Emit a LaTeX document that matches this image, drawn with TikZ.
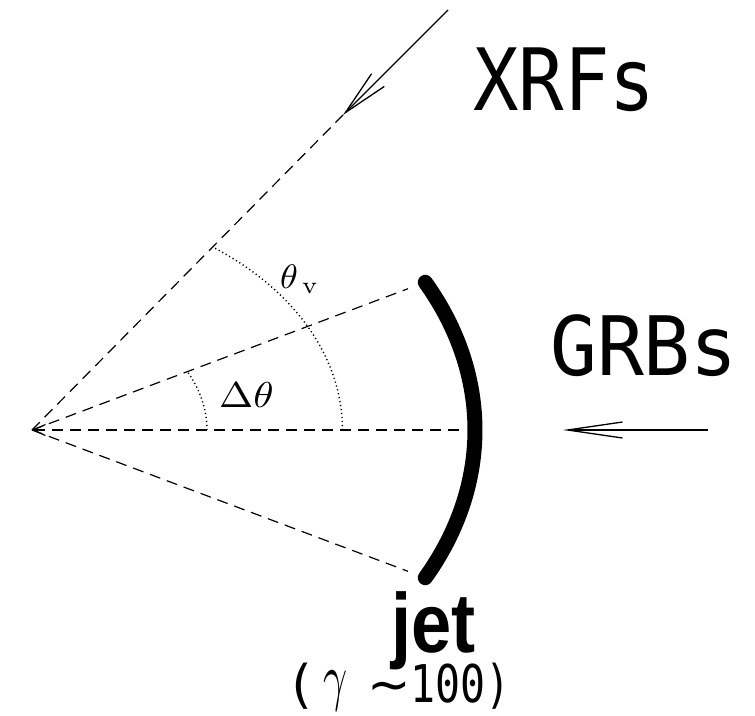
\documentclass[tikz,border=0pt]{standalone}
\usepackage{fontspec}
\usepackage{graphicx}
\setmonofont{DejaVu Sans Mono}
\newfontfamily\dvsans{DejaVu Sans}
\newfontfamily\lsans{Liberation Sans}
\usetikzlibrary{arrows.meta}
\newcommand{\gammaglyph}{\raisebox{4pt}{\scalebox{4.2}[6.4]{\fontsize{10}{12}\selectfont$\gamma$}}}
\begin{document}
\begin{tikzpicture}[x=1pt,y=1pt,
  ray/.style={line width=1.2pt, dash pattern=on 11pt off 7pt},
  dotarc/.style={line width=1.4pt, dash pattern=on 1.2pt off 2.8pt},
  flux/.style={line width=1.3pt},
  lbl/.style={inner sep=0pt, anchor=base west},
  jetline/.style={line width=15pt, line cap=round}]
\useasboundingbox (0,0) rectangle (755,-715);
% key points
\coordinate (O) at (32,-430);
\coordinate (T) at (343,-115);
\coordinate (S) at (448,-10);
\coordinate (E1) at (408,-288.7);
\coordinate (H) at (466,-430);
\coordinate (E2) at (408,-571.3);
\coordinate (G1) at (708,-430);
\coordinate (G2) at (563,-430);
% dashed rays
\draw[ray] (O) -- (T);
\draw[ray] (O) -- (E1);
\draw[ray, {Straight Barb[length=12pt,width=11pt]}-] (O) -- (H);
\draw[ray] (O) -- (E2);
% incoming fluxes
\draw[flux, -{Straight Barb[length=46pt,width=18pt]}] (S) -- (T);
\draw[flux, -{Straight Barb[length=55pt,width=16pt]}] (G1) -- (G2);
% dotted angle arcs
\draw[dotarc] (O) ++(175,0) arc[start angle=0, end angle=27.4, x radius=175, y radius=127];
\draw[dotarc] (O) ++(310.5,0) arc[start angle=0, end angle=54.4, x radius=310.5, y radius=225];
% jet
\draw[jetline] (O) ++(-27.4:443 and 321) arc[start angle=-27.4, end angle=27.4, x radius=443, y radius=321];
% labels
\node[lbl] (thv) at (280,-288) {\scalebox{3.6}[3.4]{\fontsize{10}{12}\selectfont$\theta_{\,\mathrm{v}}$}};
\node[lbl] (dth) at (219,-407) {\scalebox{4.1}[3.6]{\fontsize{10}{12}\selectfont$\Delta\theta$}};
\node[lbl] (xrf) at (473,-110) {\fontsize{86}{86}\selectfont\ttfamily\scalebox{0.88}[1]{XRFs}};
\node[lbl] (grb) at (550,-375) {\fontsize{82}{82}\selectfont\ttfamily\scalebox{0.95}[1]{GRBs}};
\node[lbl] (jet) at (391,-652) {\fontsize{84}{84}\selectfont\lsans\bfseries\scalebox{0.86}[1]{jet}};
\node[lbl] (gam) at (285,-702) {\fontsize{52}{52}\selectfont\ttfamily\makebox[38pt][l]{(}\makebox[44pt][l]{\gammaglyph}\makebox[43pt][l]{\dvsans ∼}\scalebox{0.8}[1]{100)}};
\end{tikzpicture}
\end{document}
